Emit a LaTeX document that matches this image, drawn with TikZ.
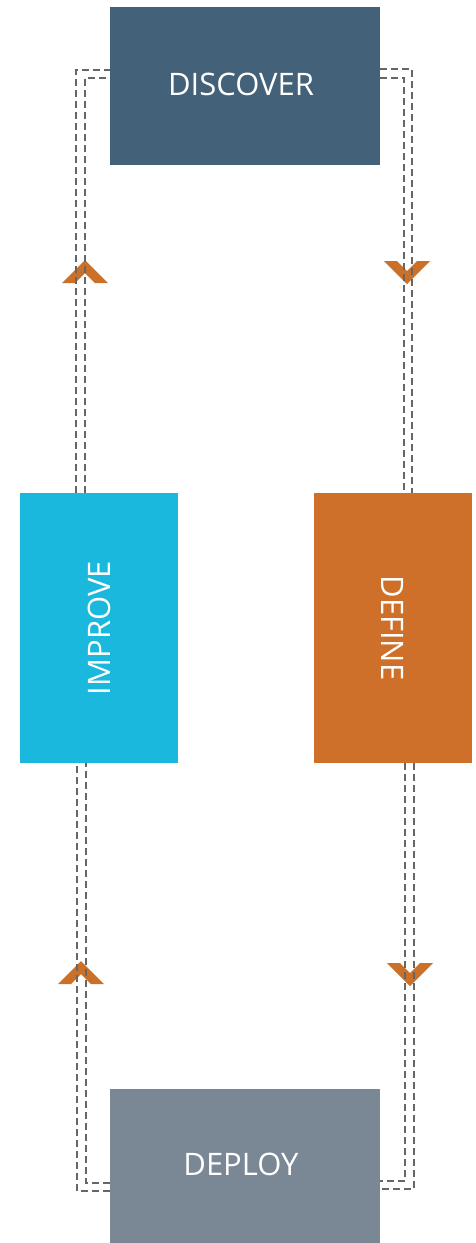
\documentclass[tikz,border=0pt]{standalone}
\usepackage{fontspec}
\setmainfont{Open Sans}
\usetikzlibrary{calc}
\definecolor{cdisc}{HTML}{436178}
\definecolor{cimpr}{HTML}{1BB8DD}
\definecolor{cdef}{HTML}{CE7029}
\definecolor{cdepl}{HTML}{7A8795}
\definecolor{cchev}{HTML}{CB7029}
\definecolor{cdash}{HTML}{666666}
\begin{document}
\begin{tikzpicture}[x=1pt,y=-1pt,
  box/.style={rectangle,inner sep=0pt,text=white,font=\fontsize{31}{36}\selectfont},
  dline/.style={draw=cdash,line width=2.4pt,dash pattern=on 7pt off 4pt},
]
\useasboundingbox (0,0) rectangle (476,1243);
\fill[white] (0,0) rectangle (476,1243);
% chevrons (under the dashed lines)
\fill[cchev] (85,260) ++(-23,23) -- ++(23,-23) -- ++(23,23) -- ++(-13,0) -- ++(-10,-10) -- ++(-10,10) -- cycle;
\fill[cchev] (407,284) ++(-23,-23) -- ++(23,23) -- ++(23,-23) -- ++(-13,0) -- ++(-10,10) -- ++(-10,-10) -- cycle;
\fill[cchev] (81,961) ++(-23,23) -- ++(23,-23) -- ++(23,23) -- ++(-13,0) -- ++(-10,-10) -- ++(-10,10) -- cycle;
\fill[cchev] (410,986) ++(-23,-23) -- ++(23,23) -- ++(23,-23) -- ++(-13,0) -- ++(-10,10) -- ++(-10,-10) -- cycle;
\node[box,fill=cdisc,minimum width=270pt,minimum height=158pt] (discover) at (245,86) {\raisebox{3pt}{DISCOVER}\hspace*{8pt}};
\node[box,fill=cimpr,minimum width=270pt,minimum height=158pt,rotate=90] (improve) at (99,628) {IMPROVE};
\node[box,fill=cdef,minimum width=270pt,minimum height=158pt,rotate=-90] (define) at (393,628) {DEFINE};
\node[box,fill=cdepl,minimum width=270pt,minimum height=154pt] (deploy) at (245,1166) {\raisebox{3pt}{DEPLOY}\hspace*{8pt}};
% connectors: discover -> define
\draw[dline] ([yshift=-62pt]discover.north east) -| (412,493);
\draw[dline] ([yshift=-71pt]discover.north east) -| (404,493);
% define -> deploy
\draw[dline] (405,763) |- ([yshift=-92pt]deploy.north east);
\draw[dline] (414,763) |- ([yshift=-100pt]deploy.north east);
% deploy -> improve
\draw[dline] ([yshift=-94pt]deploy.north west) -| (86,763);
\draw[dline] ([yshift=-102pt]deploy.north west) -| (77,763);
% improve -> discover
\draw[dline] (85,493) |- ([yshift=-71pt]discover.north west);
\draw[dline] (76,493) |- ([yshift=-63pt]discover.north west);
\end{tikzpicture}
\end{document}
